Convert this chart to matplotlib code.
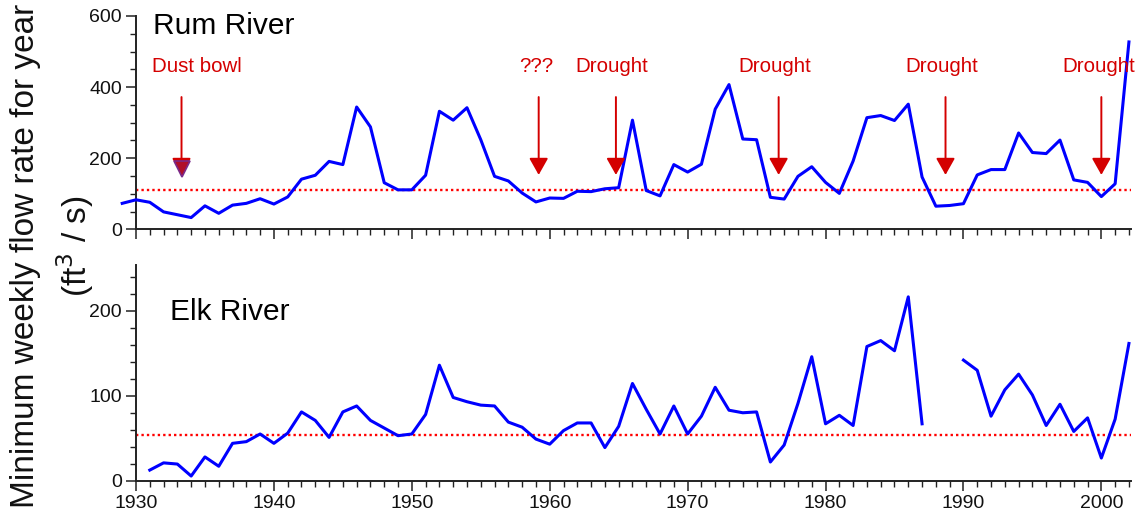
import numpy as np
import matplotlib
matplotlib.use("Agg")
import matplotlib.pyplot as plt
from matplotlib.ticker import MultipleLocator

plt.rcParams['font.family'] = ['Liberation Sans', 'DejaVu Sans']

# ---------------- data ----------------
rum_years = list(range(1929, 2003))
rum_flow = [73, 83, 76, 49, 41, 33, 66, 45, 68, 73, 86, 71,
            91, 141, 152, 191, 182, 344, 288, 131, 111, 111,
            152, 332, 307, 342, 252, 149, 136, 102, 77, 88,
            87, 107, 106, 114, 117, 307, 109, 94, 182, 161,
            183, 338, 407, 254, 252, 90, 85, 149, 176, 132,
            101, 192, 314, 320, 306, 352, 147, 65, 67, 72,
            153, 168, 168, 271, 216, 213, 251, 139, 132, 92,
            128, 527]
rum_threshold = 111

elk_years = list(range(1931, 2003))
elk_flow = [12.5, 21, 19.6, 5.5, 28, 17, 44, 46, 55, 44,
            56, 81, 71, 51, 81, 88, 71, 62, 53, 55,
            78, 136, 98, 93, 89, 88, 69, 63, 49, 43,
            59, 68, 68, 39, 64, 114.5, 84, 55, 88, 55,
            76, 110, 83, 80, 81, 22, 42, 91, 146, 67,
            77, 65, 158, 165, 153, 216.5, 67, np.nan, np.nan, 142,
            130, 76, 107, 125.5, 101, 65, 90, 58, 74, 26.7,
            72.5, 161.6]
elk_threshold = 53.3

event_labels = ["Dust bowl", "???", "Drought", "Drought", "Drought", "Drought"]
event_label_x = [1934.4, 1959.0, 1964.5, 1976.3, 1988.45, 1999.8]
event_arrow_x = [1933.3, 1959.2, 1964.8, 1976.6, 1988.7, 2000.0]
event_label_y = 457
event_arrow_tail = 372
event_arrow_tip = 153

x_ticks = [1930, 1940, 1950, 1960, 1970, 1980, 1990, 2000]

# ---------------- figure ----------------
W, H = 1140, 521
fig = plt.figure(figsize=(W / 100, H / 100), dpi=100)

left = 136 / W
width = 995 / W
ax1 = fig.add_axes([left, 1 - 229.3 / H, width, (229.3 - 16) / H])
ax2 = fig.add_axes([left, 1 - 480.7 / H, width, (480.7 - 265) / H])

blue = '#0000ff'
red_dot = '#ff0000'
red = '#d40000'

for ax in (ax1, ax2):
    ax.set_xlim(1930, 2002.15)
    for s in ('top', 'right'):
        ax.spines[s].set_visible(False)
    for s in ('left', 'bottom'):
        ax.spines[s].set_linewidth(1.4)
        ax.spines[s].set_color('#222222')
    ax.xaxis.set_major_locator(MultipleLocator(10))
    ax.xaxis.set_minor_locator(MultipleLocator(1))
    ax.tick_params(axis='both', which='major', direction='out', length=7,
                   width=1.1, color='#222222', labelsize=14, pad=3,
                   labelcolor='#111111')
    ax.tick_params(axis='both', which='minor', direction='out', length=4,
                   width=1.0, color='#222222')

# Rum River
ax1.plot(rum_years, rum_flow, color=blue, lw=2.2, clip_on=False, zorder=3)
ax1.axhline(rum_threshold, color=red_dot, lw=1.7, ls=(0, (1, 1.3)), zorder=2)
ax1.set_ylim(0, 600)
ax1.set_yticks([0, 200, 400, 600])
ax1.yaxis.set_minor_locator(MultipleLocator(50))
ax1.set_xticks(x_ticks)
ax1.tick_params(axis='x', labelbottom=False)
ax1.text(1931.2, 572, "Rum River", fontsize=21.5, ha='left', va='center', color='black')

props = dict(arrowstyle='-|>,head_length=0.85,head_width=0.48',
             mutation_scale=12, lw=1.4, color=red, shrinkA=0, shrinkB=0)
for i, (lab, lx, axx) in enumerate(zip(event_labels, event_label_x, event_arrow_x)):
    ax1.text(lx, event_label_y, lab, color=red, fontsize=14.8, ha='center', va='center')
    ax1.annotate('', xy=(axx, event_arrow_tip), xytext=(axx, event_arrow_tail),
                 arrowprops=props, zorder=4)
# the dust-bowl arrowhead has a darker fill with a purple outline
ax1.plot([event_arrow_x[0]], [event_arrow_tip + 16], marker='v', markersize=11,
         markerfacecolor='#b0102a', markeredgecolor='#7a2a8a', markeredgewidth=1.2,
         linestyle='none', zorder=5)

# Elk River
ax2.plot(elk_years, elk_flow, color=blue, lw=2.2, zorder=3)
ax2.axhline(elk_threshold, color=red_dot, lw=1.7, ls=(0, (1, 1.3)), zorder=2)
ax2.set_ylim(0, 254)
ax2.set_yticks([0, 100, 200])
ax2.yaxis.set_minor_locator(MultipleLocator(20))
ax2.set_xticks(x_ticks)
ax2.text(1932.5, 199, "Elk River", fontsize=21.5, ha='left', va='center', color='black')

# shared y label (two lines placed separately)
fig.text(25.5 / W, 1 - 256 / H, "Minimum weekly flow rate for year",
         rotation=90, ha='center', va='center', fontsize=24, color='#111111')
fig.text(75 / W, 1 - 246 / H, "(ft$^3$ / s)",
         rotation=90, ha='center', va='center', fontsize=24, color='#111111')

fig.savefig("out.png", dpi=100)
